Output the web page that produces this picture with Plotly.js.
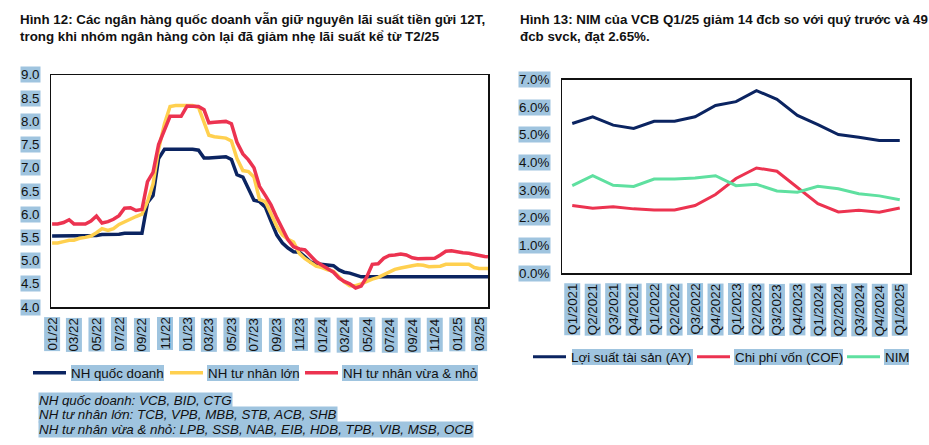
<!DOCTYPE html>
<html><head><meta charset="utf-8">
<script src="https://cdn.plot.ly/plotly-3.0.1.min.js"></script>
<style>html,body{margin:0;padding:0;background:#fff}#chart{width:929px;height:445px}</style>
</head><body><div id="chart"></div>
<script>
// ---------- Left chart data (12M deposit rates, %) ----------
const dates = [
 '2022-01-01','2022-01-16','2022-02-01','2022-02-16','2022-03-01','2022-03-16','2022-04-01','2022-04-16',
 '2022-05-01','2022-05-16','2022-06-01','2022-06-16','2022-07-01','2022-07-16','2022-08-01','2022-08-16',
 '2022-09-01','2022-09-16','2022-10-01','2022-10-16','2022-11-01','2022-11-16','2022-12-01','2022-12-16',
 '2023-01-01','2023-01-16','2023-02-01','2023-02-16','2023-03-01','2023-03-16','2023-04-01','2023-04-16',
 '2023-05-01','2023-05-16','2023-06-01','2023-06-16','2023-07-01','2023-07-16','2023-08-01','2023-08-16',
 '2023-09-01','2023-09-16','2023-10-01','2023-10-16','2023-11-01','2023-11-16','2023-12-01','2023-12-16',
 '2024-01-01','2024-01-16','2024-02-01','2024-02-16','2024-03-01','2024-03-16','2024-04-01','2024-04-16',
 '2024-05-01','2024-05-16','2024-06-01','2024-06-16','2024-07-01','2024-07-16','2024-08-01','2024-08-16',
 '2024-09-01','2024-09-16','2024-10-01','2024-10-16','2024-11-01','2024-11-16','2024-12-01','2024-12-16',
 '2025-01-01','2025-01-16','2025-02-01','2025-02-16','2025-03-01','2025-03-16','2025-03-25'
];
const stateBanks = [
 5.53,5.53,5.53,5.53,5.53,5.53,5.53,5.53,
 5.54,5.56,5.56,5.56,5.57,5.59,5.59,5.59,
 5.59,6.25,6.40,7.20,7.40,7.40,7.40,7.40,
 7.40,7.40,7.38,7.21,7.21,7.22,7.23,7.24,
 7.18,6.85,6.80,6.55,6.30,6.27,6.15,5.85,
 5.55,5.38,5.27,5.19,5.18,5.08,4.97,4.93,
 4.92,4.91,4.89,4.80,4.75,4.73,4.68,4.65,
 4.65,4.65,4.65,4.65,4.65,4.65,4.65,4.65,
 4.65,4.65,4.65,4.65,4.65,4.65,4.65,4.65,
 4.65,4.65,4.65,4.65,4.65,4.65,4.65
];
const largePrivate = [
 5.38,5.38,5.41,5.44,5.44,5.48,5.50,5.53,
 5.60,5.69,5.65,5.69,5.78,5.84,5.90,5.95,
 6.00,6.27,6.65,7.40,7.95,8.32,8.34,8.34,
 8.34,8.34,8.30,7.95,7.70,7.67,7.65,7.64,
 7.58,7.20,6.94,6.92,6.80,6.32,6.27,6.02,
 5.73,5.55,5.46,5.40,5.15,5.04,4.95,4.88,
 4.85,4.80,4.77,4.65,4.54,4.46,4.46,4.50,
 4.56,4.60,4.64,4.70,4.77,4.81,4.84,4.87,
 4.89,4.91,4.90,4.87,4.87,4.88,4.92,4.92,
 4.92,4.92,4.92,4.85,4.83,4.83,4.83
];
const smallPrivate = [
 5.79,5.79,5.82,5.88,5.79,5.79,5.79,5.85,
 5.96,5.81,5.84,5.89,5.97,6.13,6.14,6.08,
 6.10,6.70,6.90,7.50,7.82,8.11,8.11,8.11,
 8.33,8.33,8.32,8.25,7.97,7.98,7.99,8.00,
 7.95,7.55,7.30,7.17,7.00,6.60,6.40,6.20,
 5.92,5.68,5.45,5.30,5.25,5.23,5.10,4.98,
 4.90,4.83,4.75,4.62,4.55,4.50,4.41,4.45,
 4.65,4.92,4.93,5.05,5.11,5.12,5.14,5.12,
 5.06,5.04,5.04,5.04,5.05,5.12,5.20,5.21,
 5.18,5.17,5.16,5.13,5.11,5.09,5.08
];
const leftTickDates = ['2022-01-01','2022-03-01','2022-05-01','2022-07-01','2022-09-01','2022-11-01',
 '2023-01-01','2023-03-01','2023-05-01','2023-07-01','2023-09-01','2023-11-01',
 '2024-01-01','2024-03-01','2024-05-01','2024-07-01','2024-09-01','2024-11-01',
 '2025-01-01','2025-03-01'];
const leftTickLabels = ['01/22','03/22','05/22','07/22','09/22','11/22',
 '01/23','03/23','05/23','07/23','09/23','11/23',
 '01/24','03/24','05/24','07/24','09/24','11/24',
 '01/25','03/25'];
const leftYTicks = [4.0,4.5,5.0,5.5,6.0,6.5,7.0,7.5,8.0,8.5,9.0];
const leftNames = ['NH quốc doanh','NH tư nhân lớn','NH tư nhân vừa & nhỏ'];

// ---------- Right chart data (VCB, %) ----------
const quarters = ['Q1/2021','Q2/2021','Q3/2021','Q4/2021','Q1/2022','Q2/2022','Q3/2022','Q4/2022',
 'Q1/2023','Q2/2023','Q3/2023','Q4/2023','Q1/2024','Q2/2024','Q3/2024','Q4/2024','Q1/2025'];
const assetYield  = [5.41,5.65,5.35,5.23,5.49,5.49,5.65,6.06,6.20,6.60,6.28,5.70,5.37,5.01,4.91,4.79,4.79];
const costOfFunds = [2.44,2.34,2.40,2.32,2.28,2.28,2.44,2.84,3.42,3.80,3.68,3.08,2.51,2.21,2.27,2.20,2.35];
const nim         = [3.16,3.52,3.17,3.13,3.40,3.40,3.44,3.52,3.16,3.21,2.97,2.92,3.14,3.05,2.87,2.79,2.65];
const rightYTicks = [0,1,2,3,4,5,6,7];
const rightNames = ['Lợi suất tài sản (AY)','Chi phí vốn (COF)','NIM'];

const footnotes = ['NH quốc doanh: VCB, BID, CTG','NH tư nhân lớn: TCB, VPB, MBB, STB, ACB, SHB',
 'NH tư nhân vừa & nhỏ: LPB, SSB, NAB, EIB, HDB, TPB, VIB, MSB, OCB'];
const titleLeft = 'Hình 12: Các ngân hàng quốc doanh vẫn giữ nguyên lãi suất tiền gửi 12T,<br>trong khi nhóm ngân hàng còn lại đã giảm nhẹ lãi suất kể từ T2/25';
const titleRight = 'Hình 13: NIM của VCB Q1/25 giảm 14 đcb so với quý trước và 49<br>đcb svck, đạt 2.65%.';

// ---------- Styling ----------
const W = 929, H = 445;
const px = v => v / W, py = v => 1 - v / H;
const FONT = 'Liberation Sans, Arial, sans-serif';
const FS = 13.33;
const HL = '#9fc4df';
const NAVY = '#0b2461', YELLOW = '#ffd04f', RED = '#ec3350', GREEN = '#5fe0a0';

const traces = [
 {x: dates, y: stateBanks, name: leftNames[0], type: 'scatter', mode: 'lines', line: {color: NAVY, width: 3.5}, xaxis: 'x', yaxis: 'y', legend: 'legend'},
 {x: dates, y: largePrivate, name: leftNames[1], type: 'scatter', mode: 'lines', line: {color: YELLOW, width: 3.5}, xaxis: 'x', yaxis: 'y', legend: 'legend2'},
 {x: dates, y: smallPrivate, name: leftNames[2], type: 'scatter', mode: 'lines', line: {color: RED, width: 3.5}, xaxis: 'x', yaxis: 'y', legend: 'legend3'},
 {x: quarters, y: assetYield, name: rightNames[0], type: 'scatter', mode: 'lines', line: {color: NAVY, width: 3}, xaxis: 'x2', yaxis: 'y2', legend: 'legend4'},
 {x: quarters, y: costOfFunds, name: rightNames[1], type: 'scatter', mode: 'lines', line: {color: RED, width: 3}, xaxis: 'x2', yaxis: 'y2', legend: 'legend5'},
 {x: quarters, y: nim, name: rightNames[2], type: 'scatter', mode: 'lines', line: {color: GREEN, width: 3}, xaxis: 'x2', yaxis: 'y2', legend: 'legend6'}
];

const axBase = {showgrid: false, zeroline: false, showticklabels: false, ticks: '', showline: true, mirror: true, linecolor: '#111', linewidth: 1.5, fixedrange: true};
const xDomL = [px(51), px(488)], yDomL = [py(307), py(75)];
const xDomR = [px(562), px(910)], yDomR = [py(273), py(79.5)];

const tickFont = {family: FONT, size: FS, color: '#111'};
const annotations = [];
// Titles
annotations.push({xref: 'paper', yref: 'paper', x: px(18), y: py(10), xanchor: 'left', yanchor: 'top', align: 'left', showarrow: false,
  text: '<b>' + titleLeft + '</b>', font: {family: FONT, size: FS, color: '#111'}});
annotations.push({xref: 'paper', yref: 'paper', x: px(518), y: py(10), xanchor: 'left', yanchor: 'top', align: 'left', showarrow: false,
  text: '<b>' + titleRight + '</b>', font: {family: FONT, size: FS, color: '#111'}});
// Left y tick labels
leftYTicks.forEach(v => annotations.push({xref: 'paper', yref: 'y', x: xDomL[0], xshift: -10, y: v, xanchor: 'right', yanchor: 'middle',
  showarrow: false, text: v.toFixed(1), font: tickFont, bgcolor: HL, borderpad: 0}));
// Left x tick labels
leftTickDates.forEach((d, i) => annotations.push({xref: 'x', yref: 'paper', x: d, y: yDomL[0], yshift: -10, xanchor: 'center', yanchor: 'top',
  textangle: -90, showarrow: false, text: leftTickLabels[i], font: tickFont, bgcolor: HL, borderpad: 0}));
// Right y tick labels
rightYTicks.forEach(v => annotations.push({xref: 'paper', yref: 'y2', x: xDomR[0], xshift: -11, y: v, xanchor: 'right', yanchor: 'middle',
  showarrow: false, text: v.toFixed(1) + '%', font: tickFont, bgcolor: HL, borderpad: 0}));
// Right x tick labels
quarters.forEach(q => annotations.push({xref: 'x2', yref: 'paper', x: q, y: yDomR[0], yshift: -10, xanchor: 'center', yanchor: 'top',
  textangle: -90, showarrow: false, text: q, font: tickFont, bgcolor: HL, borderpad: 0}));
// Footnotes
footnotes.forEach((t, i) => annotations.push({xref: 'paper', yref: 'paper', x: px(38), y: py(400 + i * 14.7), xanchor: 'left', yanchor: 'middle',
  showarrow: false, text: t, font: {family: FONT, size: FS, color: '#111', style: 'italic'}, bgcolor: HL, borderpad: 0}));

// Highlight rectangles behind legend texts
const legendHL = [[71,164,365,381],[207,299,365,381],[342,478,365,381],[572,693,349,365],[734,843,349,365],[884,909,349,365]];
const shapes = legendHL.map(r => ({type: 'rect', xref: 'paper', yref: 'paper', x0: px(r[0]), x1: px(r[1]), y0: py(r[3]), y1: py(r[2]),
  fillcolor: HL, line: {width: 0}, layer: 'below'}));

// One legend per series so each entry sits where the reference puts it
const legendStarts = [[28,373],[165,373],[300,373],[528,357],[692,357],[842,357]];
const legendBase = {orientation: 'h', xanchor: 'left', yanchor: 'middle', bgcolor: 'rgba(0,0,0,0)', itemwidth: 33,
  font: {family: FONT, size: FS, color: '#111'}};

const layout = {
  width: W, height: H, margin: {l: 0, r: 0, t: 0, b: 0}, paper_bgcolor: '#fff', plot_bgcolor: '#fff',
  font: {family: FONT, size: FS, color: '#111'},
  xaxis: Object.assign({}, axBase, {domain: xDomL, type: 'date', range: ['2021-12-29', '2025-03-25'], anchor: 'y'}),
  yaxis: Object.assign({}, axBase, {domain: yDomL, range: [4, 9], anchor: 'x'}),
  xaxis2: Object.assign({}, axBase, {domain: xDomR, type: 'category', range: [-0.5, quarters.length - 0.5], anchor: 'y2'}),
  yaxis2: Object.assign({}, axBase, {domain: yDomR, range: [0, 7], anchor: 'x2'}),
  showlegend: true,
  annotations: annotations,
  shapes: shapes
};
legendStarts.forEach((p, i) => {
  layout[i === 0 ? 'legend' : 'legend' + (i + 1)] = Object.assign({}, legendBase, {x: px(p[0]), y: py(p[1])});
});

Plotly.newPlot('chart', traces, layout, {displayModeBar: false, staticPlot: true});
</script>
</body></html>
